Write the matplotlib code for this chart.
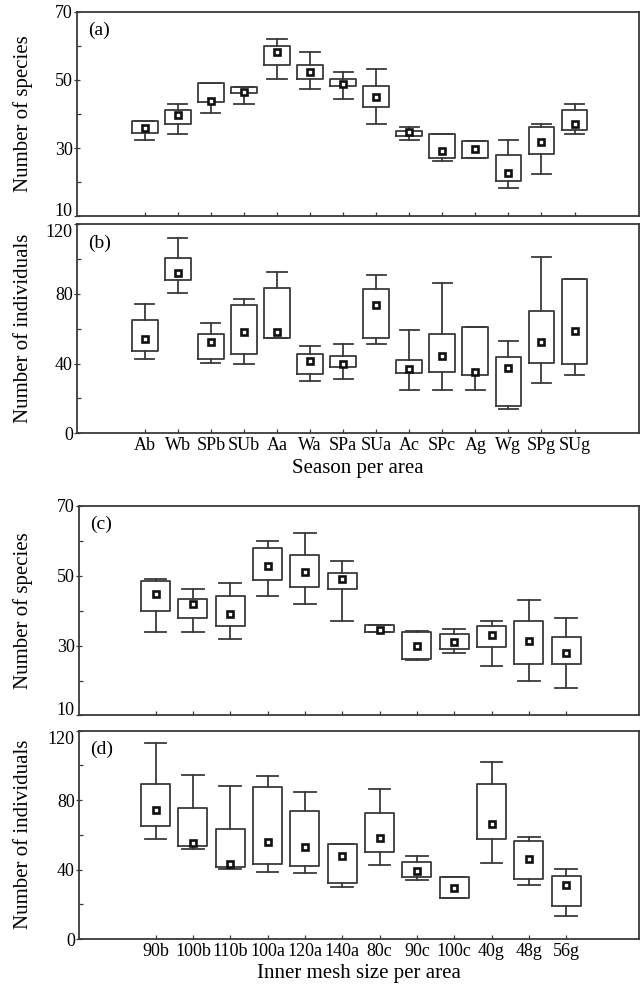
import matplotlib
matplotlib.use('Agg')
import matplotlib.pyplot as plt
from matplotlib import rcParams
from matplotlib.ticker import FixedLocator

rcParams.update({'font.family': 'Liberation Serif', 'font.size': 13})

# season per area
seasons = ['Ab', 'Wb', 'SPb', 'SUb', 'Aa', 'Wa', 'SPa', 'SUa', 'Ac', 'SPc', 'Ag', 'Wg', 'SPg', 'SUg']

# (a) number of species
a_lo = [32.4, 34.0, 40.2, 43.0, 50.3, 47.3, 44.4, 37.2, 32.3, 26.2, 27.2, 18.2, 22.3, 34.2]
a_q1 = [34.3, 37.1, 43.4, 46.3, 54.3, 50.3, 48.3, 42.1, 33.4, 27.2, 27.2, 20.4, 28.1, 35.2]
a_med = [35.8, 39.7, 43.8, 46.6, 58.1, 52.3, 48.9, 45.1, 34.6, 29.1, 29.8, 22.6, 31.7, 37.2]
a_q3 = [38.0, 41.2, 49.2, 48.0, 60.0, 54.3, 50.3, 48.1, 35.0, 34.1, 32.2, 28.0, 36.3, 41.1]
a_hi = [38.0, 42.9, 49.2, 48.0, 62.2, 58.2, 52.3, 53.1, 36.3, 34.1, 32.2, 32.3, 37.2, 42.9]

# (b) number of individuals
b_lo = [42.5, 80.3, 40.3, 39.8, 54.6, 29.9, 31.0, 51.4, 25.1, 24.6, 25.1, 14.1, 29.1, 33.5]
b_q1 = [47.0, 88.0, 42.6, 45.7, 54.6, 33.9, 38.1, 54.9, 34.6, 35.2, 33.5, 15.4, 40.6, 40.0]
b_med = [53.9, 92.0, 52.6, 58.1, 58.3, 41.7, 39.6, 73.7, 36.9, 44.6, 34.9, 37.5, 52.6, 58.5]
b_q3 = [65.1, 100.3, 56.9, 73.3, 83.6, 45.5, 44.6, 82.5, 42.3, 56.9, 61.1, 43.8, 70.1, 88.7]
b_hi = [74.1, 111.8, 63.0, 77.1, 92.7, 49.9, 51.0, 91.0, 59.0, 86.3, 61.1, 52.7, 100.9, 88.7]

# inner mesh size per area
meshes = ['90b', '100b', '110b', '100a', '120a', '140a', '80c', '90c', '100c', '40g', '48g', '56g']

# (c) number of species
c_lo = [33.8, 33.8, 31.8, 44.1, 42.0, 37.1, 33.9, 26.0, 28.0, 24.1, 19.8, 17.9]
c_q1 = [39.8, 37.8, 35.6, 48.8, 46.8, 46.2, 33.9, 26.1, 29.1, 29.5, 24.7, 24.7]
c_med = [44.7, 42.0, 39.0, 52.7, 51.1, 49.1, 34.5, 30.0, 31.1, 33.1, 31.4, 28.0]
c_q3 = [48.6, 43.5, 44.3, 58.0, 56.1, 50.9, 35.9, 33.9, 33.4, 35.7, 37.0, 32.4]
c_hi = [49.1, 46.3, 47.9, 60.1, 62.3, 54.3, 36.0, 34.1, 34.8, 37.1, 43.2, 38.0]

# (d) number of individuals
d_lo = [57.3, 51.7, 40.2, 38.3, 38.0, 29.8, 42.6, 33.8, 23.8, 43.8, 30.9, 13.2]
d_q1 = [64.8, 53.4, 41.5, 43.2, 42.1, 32.3, 49.8, 35.7, 23.8, 57.3, 34.8, 19.2]
d_med = [74.0, 55.0, 43.4, 56.1, 52.7, 47.7, 58.2, 39.2, 29.6, 66.1, 45.9, 30.9]
d_q3 = [89.2, 75.5, 63.4, 87.3, 73.6, 54.4, 72.3, 44.2, 35.5, 89.4, 56.3, 36.5]
d_hi = [112.7, 94.4, 88.1, 93.6, 84.4, 54.4, 86.3, 47.5, 35.5, 101.9, 58.8, 40.2]

LC = '#3a3a3a'


def box_panel(ax, names, lo, q1, med, q3, hi, tag, ylim, major, minor, ylabel, show_names, lab_x):
    stats = [dict(whislo=l, q1=a, med=m, q3=b, whishi=h, fliers=[])
             for l, a, m, b, h in zip(lo, q1, med, q3, hi)]
    pos = list(range(1, len(names) + 1))
    lp = dict(color=LC, linewidth=1.3)
    ax.bxp(stats, positions=pos, widths=0.78, capwidths=0.58, showfliers=False,
           boxprops=lp, whiskerprops=lp, capprops=lp,
           medianprops=dict(linewidth=0))
    ax.plot(pos, med, 's', ms=5, mfc='white', mec='#111111', mew=1.9, zorder=3)
    ax.set_xlim(-1.05, len(names) + 1.95)
    ax.set_ylim(*ylim)
    ax.set_yticks(major)
    ax.yaxis.set_minor_locator(FixedLocator(minor))
    ax.set_xticks(pos)
    ax.set_xticklabels(names if show_names else [])
    ax.tick_params(axis='y', which='major', direction='inout', length=4, width=0.9, color=LC, pad=1)
    ax.tick_params(axis='y', which='minor', direction='in', length=3, width=0.9, color=LC)
    ax.tick_params(axis='x', which='major', direction='in', length=3, width=0.9, color=LC, pad=3)
    for s in ax.spines.values():
        s.set_color(LC)
        s.set_linewidth(1.3)
    ax.text(0.02, 0.91, tag, transform=ax.transAxes, fontsize=14, ha='left', va='center')
    ax.set_ylabel(ylabel, fontsize=15)
    ax.yaxis.set_label_coords(lab_x, 0.5)


fig = plt.figure(figsize=(6.44, 9.9), dpi=100)

ax1 = fig.add_axes([0.1196, 0.7818, 0.8726, 0.2061])
ax2 = fig.add_axes([0.1196, 0.5623, 0.8726, 0.2114])
ax3 = fig.add_axes([0.1227, 0.2773, 0.8695, 0.2116])
ax4 = fig.add_axes([0.1227, 0.0515, 0.8695, 0.2106])

box_panel(ax1, seasons, a_lo, a_q1, a_med, a_q3, a_hi, '(a)', (10, 70),
          [10, 30, 50, 70], [20, 40, 60], 'Number of species', False, -0.078)
box_panel(ax2, seasons, b_lo, b_q1, b_med, b_q3, b_hi, '(b)', (0, 120),
          [0, 40, 80, 120], [20, 60, 100], 'Number of individuals', True, -0.078)
ax2.set_xlabel('Season per area', fontsize=15, labelpad=3)

box_panel(ax3, meshes, c_lo, c_q1, c_med, c_q3, c_hi, '(c)', (10, 70),
          [10, 30, 50, 70], [20, 40, 60], 'Number of species', False, -0.082)
box_panel(ax4, meshes, d_lo, d_q1, d_med, d_q3, d_hi, '(d)', (0, 120),
          [0, 40, 80, 120], [20, 60, 100], 'Number of individuals', True, -0.082)
ax4.set_xlabel('Inner mesh size per area', fontsize=15, labelpad=3)

# keep the stacked "10" and "120" labels from running into each other
for ax in (ax1, ax3):
    ax.get_yticklabels()[0].set_va('baseline')
for ax in (ax2, ax4):
    ax.get_yticklabels()[-1].set_va('top')

fig.savefig('out.png', dpi=100)
